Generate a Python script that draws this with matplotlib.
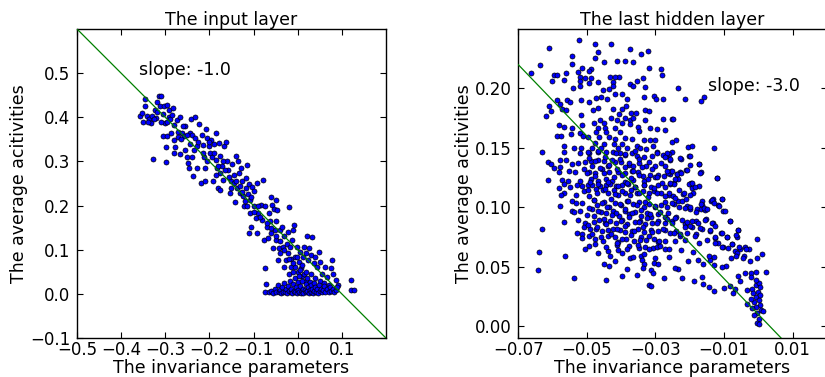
import numpy as np
import matplotlib
matplotlib.use("Agg")
import matplotlib.pyplot as plt
from matplotlib.ticker import FormatStrFormatter

# ---- data (x = invariance parameter, y = average activity) ----
input_points = [
    (-0.358, 0.402), (-0.353, 0.410), (-0.347, 0.442), (-0.351, 0.389), (-0.347, 0.425),
    (-0.342, 0.402), (-0.336, 0.395), (-0.333, 0.387), (-0.330, 0.402), (-0.327, 0.305),
    (-0.324, 0.417), (-0.320, 0.398), (-0.319, 0.434), (-0.315, 0.448), (-0.309, 0.449),
    (-0.311, 0.425), (-0.304, 0.408), (-0.302, 0.425), (-0.300, 0.387), (-0.298, 0.298),
    (-0.296, 0.428), (-0.292, 0.401), (-0.305, 0.357), (-0.296, 0.358), (-0.298, 0.332),
    (-0.292, 0.416), (-0.289, 0.397), (-0.287, 0.364), (-0.283, 0.420), (-0.280, 0.383),
    (-0.280, 0.349), (-0.277, 0.333), (-0.281, 0.320), (-0.273, 0.394), (-0.270, 0.367),
    (-0.266, 0.401), (-0.267, 0.317), (-0.262, 0.364), (-0.258, 0.358), (-0.255, 0.381),
    (-0.255, 0.326), (-0.251, 0.311), (-0.249, 0.296), (-0.247, 0.285), (-0.244, 0.364),
    (-0.241, 0.396), (-0.239, 0.361), (-0.239, 0.311), (-0.236, 0.267), (-0.232, 0.400),
    (-0.232, 0.353), (-0.229, 0.334), (-0.228, 0.285), (-0.224, 0.385), (-0.220, 0.252),
    (-0.217, 0.361), (-0.214, 0.338), (-0.213, 0.310), (-0.210, 0.255), (-0.209, 0.285),
    (-0.207, 0.373), (-0.205, 0.353), (-0.202, 0.334), (-0.199, 0.319), (-0.196, 0.349),
    (-0.194, 0.311), (-0.192, 0.255), (-0.190, 0.339), (-0.186, 0.365), (-0.184, 0.304),
    (-0.183, 0.285), (-0.181, 0.239), (-0.179, 0.342), (-0.177, 0.236), (-0.175, 0.312),
    (-0.175, 0.273), (-0.172, 0.290), (-0.169, 0.258), (-0.167, 0.334), (-0.162, 0.345),
    (-0.160, 0.300), (-0.157, 0.280), (-0.154, 0.228), (-0.151, 0.255), (-0.148, 0.294),
    (-0.145, 0.251), (-0.141, 0.209), (-0.139, 0.313), (-0.137, 0.239), (-0.136, 0.300),
    (-0.133, 0.273), (-0.131, 0.228), (-0.128, 0.285), (-0.126, 0.255), (-0.123, 0.222),
    (-0.122, 0.198), (-0.118, 0.239), (-0.116, 0.262), (-0.114, 0.292), (-0.113, 0.227),
    (-0.111, 0.248), (-0.108, 0.183), (-0.107, 0.213), (-0.111, 0.137), (-0.105, 0.152),
    (-0.103, 0.243), (-0.099, 0.232), (-0.098, 0.198), (-0.095, 0.171), (-0.093, 0.251),
    (-0.092, 0.137), (-0.090, 0.183), (-0.084, 0.202), (-0.080, 0.167), (-0.078, 0.258),
    (-0.077, 0.122), (-0.075, 0.198), (-0.073, 0.058), (-0.071, 0.023), (-0.069, 0.152),
    (-0.067, 0.126), (-0.065, 0.183), (-0.063, 0.164), (-0.061, 0.219), (-0.060, 0.137),
    (-0.058, 0.202), (-0.055, 0.103), (-0.054, 0.192), (-0.052, 0.145), (-0.050, 0.212),
    (-0.049, 0.122), (-0.048, 0.164), (-0.046, 0.189), (-0.045, 0.077), (-0.042, 0.105),
    (-0.040, 0.145), (-0.039, 0.092), (-0.035, 0.152), (-0.033, 0.107), (-0.031, 0.130),
    (-0.030, 0.061), (-0.027, 0.077), (-0.025, 0.114), (-0.023, 0.141), (-0.022, 0.092),
    (-0.019, 0.196), (-0.017, 0.107), (-0.016, 0.080), (-0.014, 0.061), (-0.012, 0.122),
    (-0.010, 0.145), (-0.008, 0.156), (-0.007, 0.084), (-0.005, 0.061), (-0.002, 0.107),
    (-0.001, 0.084), (0.003, 0.073), (0.005, 0.095), (0.007, 0.058), (0.011, 0.084),
    (0.014, 0.107), (0.018, 0.092), (0.022, 0.131), (0.023, 0.077), (0.026, 0.103),
    (0.030, 0.088), (0.033, 0.128), (0.036, 0.069), (0.039, 0.084), (0.043, 0.061),
    (0.048, 0.095), (0.051, 0.073), (0.056, 0.046), (0.061, 0.061), (0.067, 0.039),
    (0.075, 0.058), (0.077, 0.077), (0.081, 0.045), (0.086, 0.031), (0.092, 0.020),
    (0.120, 0.031), (0.120, 0.008), (0.127, 0.008),
    (-0.340, 0.390), (-0.325, 0.395), (-0.318, 0.412), (-0.310, 0.390), (-0.295, 0.390),
    (-0.285, 0.405), (-0.270, 0.355), (-0.265, 0.350), (-0.260, 0.380), (-0.250, 0.360),
    (-0.245, 0.340), (-0.235, 0.325), (-0.225, 0.345), (-0.215, 0.320), (-0.205, 0.300),
    (-0.200, 0.345), (-0.190, 0.320), (-0.185, 0.270), (-0.180, 0.290), (-0.170, 0.300),
    (-0.165, 0.280), (-0.155, 0.265), (-0.150, 0.240), (-0.145, 0.270), (-0.140, 0.255),
    (-0.130, 0.245), (-0.125, 0.230), (-0.120, 0.210), (-0.115, 0.200), (-0.105, 0.220),
    (-0.100, 0.185), (-0.090, 0.200), (-0.085, 0.175), (-0.070, 0.160), (-0.060, 0.150),
    (-0.050, 0.130), (-0.040, 0.120), (-0.030, 0.100), (-0.020, 0.080), (-0.010, 0.070),
    (0.000, 0.050), (0.010, 0.040), (0.020, 0.030), (0.030, 0.045), (0.040, 0.035),
    (0.050, 0.030), (0.060, 0.025), (0.070, 0.020),
    # the pile-up just above zero
    (-0.075, 0.005), (-0.065, 0.004), (-0.060, 0.006), (-0.055, 0.003), (-0.052, 0.012),
    (-0.048, 0.005), (-0.045, 0.020), (-0.043, 0.004), (-0.040, 0.008), (-0.038, 0.003),
    (-0.035, 0.015), (-0.033, 0.005), (-0.030, 0.025), (-0.028, 0.004), (-0.026, 0.010),
    (-0.024, 0.003), (-0.022, 0.018), (-0.020, 0.006), (-0.018, 0.030), (-0.016, 0.004),
    (-0.014, 0.012), (-0.012, 0.003), (-0.010, 0.022), (-0.008, 0.007), (-0.006, 0.035),
    (-0.005, 0.004), (-0.003, 0.015), (-0.001, 0.003), (0.000, 0.028), (0.001, 0.008),
    (0.003, 0.040), (0.004, 0.004), (0.006, 0.018), (0.007, 0.003), (0.009, 0.030),
    (0.010, 0.006), (0.012, 0.012), (0.013, 0.003), (0.015, 0.045), (0.016, 0.008),
    (0.018, 0.022), (0.019, 0.004), (0.021, 0.035), (0.022, 0.006), (0.024, 0.015),
    (0.025, 0.003), (0.027, 0.028), (0.028, 0.008), (0.030, 0.020), (0.031, 0.004),
    (0.033, 0.012), (0.035, 0.003), (0.037, 0.025), (0.038, 0.007), (0.040, 0.015),
    (0.042, 0.004), (0.044, 0.010), (0.046, 0.003), (0.048, 0.020), (0.050, 0.006),
    (0.053, 0.012), (0.055, 0.004), (0.058, 0.008), (0.060, 0.018), (0.063, 0.005),
    (0.066, 0.010), (0.070, 0.004), (0.073, 0.015), (0.076, 0.006), (0.080, 0.010),
    (0.083, 0.004), (0.087, 0.008), (0.090, 0.015), (-0.020, 0.045), (0.005, 0.055),
    (-0.010, 0.050), (0.020, 0.050), (0.010, 0.065),
]

hidden_points = [
    (-0.0522, 0.241), (-0.0477, 0.2377), (-0.0430, 0.2377), (-0.0609, 0.2340), (-0.0467, 0.2306),
    (-0.0375, 0.2329), (-0.0321, 0.2315), (-0.0343, 0.2293), (-0.0544, 0.2276), (-0.0476, 0.2253),
    (-0.0411, 0.2233), (-0.0390, 0.2230), (-0.0365, 0.2222), (-0.0451, 0.2220), (-0.0638, 0.2200),
    (-0.0542, 0.2203), (-0.0515, 0.2172), (-0.0489, 0.2163), (-0.0494, 0.2144), (-0.0527, 0.2141),
    (-0.0662, 0.2127), (-0.0595, 0.2116), (-0.0586, 0.2113), (-0.0561, 0.2130), (-0.0521, 0.2099),
    (-0.0318, 0.2169), (-0.0283, 0.2160), (-0.0281, 0.2116), (-0.0406, 0.2093), (-0.0431, 0.2093),
    (-0.0419, 0.2093), (-0.0488, 0.2088), (-0.0336, 0.2090), (-0.0601, 0.2065), (-0.0566, 0.2073),
    (-0.0504, 0.2088), (-0.0521, 0.2062), (-0.0493, 0.2048), (-0.0468, 0.2057), (-0.0423, 0.2057),
    (-0.0354, 0.2060), (-0.0425, 0.2020), (-0.0374, 0.2034), (-0.0365, 0.2017), (-0.0519, 0.2017),
    (-0.0539, 0.2000), (-0.0435, 0.1994), (-0.0453, 0.1984), (-0.0329, 0.2009), (-0.0419, 0.1956),
    (-0.0396, 0.1950), (-0.0459, 0.1928), (-0.0333, 0.1928), (-0.0305, 0.1939), (-0.0298, 0.1914),
    (-0.0279, 0.1908), (-0.0473, 0.1922), (-0.0442, 0.1911), (-0.0382, 0.1914), (-0.0588, 0.1905),
    (-0.0559, 0.1902), (-0.0550, 0.1886), (-0.0518, 0.1902), (-0.0494, 0.1883), (-0.0579, 0.1865),
    (-0.0571, 0.1829), (-0.0609, 0.1855), (-0.0561, 0.1821), (-0.0468, 0.1833), (-0.0482, 0.1821),
    (-0.0425, 0.1827), (-0.0396, 0.1827), (-0.0386, 0.1849), (-0.0330, 0.1821), (-0.0320, 0.1807),
    (-0.0371, 0.1793), (-0.0356, 0.1793), (-0.0406, 0.1782), (-0.0604, 0.1807), (-0.0618, 0.1765),
    (-0.0518, 0.1779), (-0.0463, 0.1737), (-0.0430, 0.1748), (-0.0411, 0.1731), (-0.0388, 0.1751),
    (-0.0375, 0.1737), (-0.0364, 0.1754), (-0.0330, 0.1734), (-0.0279, 0.1742), (-0.0251, 0.1742),
    (-0.0480, 0.1709), (-0.0451, 0.1709), (-0.0398, 0.1706), (-0.0373, 0.1698), (-0.0513, 0.1692),
    (-0.0581, 0.1689), (-0.0568, 0.1678), (-0.0543, 0.1669), (-0.0468, 0.1664), (-0.0447, 0.1664),
    (-0.0419, 0.1664), (-0.0352, 0.1675), (-0.0315, 0.1667), (-0.0296, 0.1658), (-0.0271, 0.1647),
    (-0.0473, 0.1630), (-0.0445, 0.1630), (-0.0402, 0.1633), (-0.0347, 0.1639), (-0.0519, 0.1622),
    (-0.0510, 0.1602), (-0.0587, 0.1597), (-0.0575, 0.1602), (-0.0545, 0.1613), (-0.0497, 0.1588),
    (-0.0464, 0.1591), (-0.0434, 0.1588), (-0.0417, 0.1574), (-0.0390, 0.1580), (-0.0367, 0.1574),
    (-0.0334, 0.1566), (-0.0316, 0.1568), (-0.0302, 0.1568), (-0.0476, 0.1537), (-0.0449, 0.1535),
    (-0.0421, 0.1532), (-0.0398, 0.1532), (-0.0355, 0.1518), (-0.0566, 0.1518), (-0.0536, 0.1500),
    (-0.0630, 0.1467), (-0.0518, 0.1498), (-0.0484, 0.1500), (-0.0458, 0.1500), (-0.0408, 0.1498),
    (-0.0382, 0.1498), (-0.0344, 0.1500), (-0.0328, 0.1490), (-0.0308, 0.1512), (-0.0296, 0.1467),
    (-0.0279, 0.1439), (-0.0263, 0.1434), (-0.0252, 0.1462), (-0.0566, 0.1462), (-0.0520, 0.1456),
    (-0.0495, 0.1456), (-0.0466, 0.1467), (-0.0445, 0.1462), (-0.0425, 0.1462), (-0.0403, 0.1456),
    (-0.0388, 0.1442), (-0.0367, 0.1456), (-0.0353, 0.1428), (-0.0332, 0.1422), (-0.0310, 0.1434),
    (-0.0560, 0.1397), (-0.0578, 0.1397), (-0.0614, 0.1378), (-0.0604, 0.1364), (-0.0597, 0.1327),
    (-0.0578, 0.1335), (-0.0542, 0.1366), (-0.0525, 0.1372), (-0.0505, 0.1383), (-0.0488, 0.1389),
    (-0.0466, 0.1397), (-0.0449, 0.1386), (-0.0439, 0.1349), (-0.0417, 0.1378), (-0.0400, 0.1383),
    (-0.0378, 0.1355), (-0.0364, 0.1344), (-0.0347, 0.1372), (-0.0326, 0.1349), (-0.0300, 0.1344),
    (-0.0271, 0.1349), (-0.0581, 0.1299), (-0.0552, 0.1307), (-0.0534, 0.1293), (-0.0507, 0.1321),
    (-0.0495, 0.1293), (-0.0476, 0.1288), (-0.0456, 0.1321), (-0.0435, 0.1293), (-0.0408, 0.1299),
    (-0.0388, 0.1288), (-0.0369, 0.1305), (-0.0351, 0.1293), (-0.0337, 0.1265), (-0.0316, 0.1271),
    (-0.0302, 0.1251), (-0.0291, 0.1271), (-0.0275, 0.1265), (-0.0258, 0.1279), (-0.0614, 0.1232),
    (-0.0571, 0.1232), (-0.0554, 0.1223), (-0.0519, 0.1223), (-0.0488, 0.1237), (-0.0468, 0.1223),
    (-0.0443, 0.1237), (-0.0427, 0.1223), (-0.0388, 0.1215), (-0.0364, 0.1232), (-0.0332, 0.1223),
    # upper right
    (-0.0235, 0.2000), (-0.0215, 0.1908), (-0.0167, 0.1891), (-0.0157, 0.1930), (-0.0248, 0.1742),
    (-0.0253, 0.1552), (-0.0241, 0.1568), (-0.0204, 0.1510), (-0.0194, 0.1518), (-0.0129, 0.1501),
    (-0.0260, 0.1448), (-0.0257, 0.1397), (-0.0225, 0.1406), (-0.0201, 0.1431), (-0.0199, 0.1355),
    (-0.0172, 0.1364), (-0.0210, 0.1316), (-0.0168, 0.1299), (-0.0254, 0.1302), (-0.0238, 0.1279),
    (-0.0227, 0.1293), (-0.0121, 0.1249), (-0.0235, 0.1237), (-0.0196, 0.1204), (-0.0245, 0.1204),
    # lower left
    (-0.0581, 0.1159), (-0.0567, 0.1195), (-0.0548, 0.1173), (-0.0528, 0.1190), (-0.0513, 0.1178),
    (-0.0497, 0.1190), (-0.0486, 0.1190), (-0.0462, 0.1178), (-0.0445, 0.1190), (-0.0431, 0.1195),
    (-0.0415, 0.1178), (-0.0398, 0.1184), (-0.0380, 0.1195), (-0.0359, 0.1173), (-0.0334, 0.1184),
    (-0.0312, 0.1167), (-0.0291, 0.1190), (-0.0273, 0.1173), (-0.0257, 0.1195), (-0.0568, 0.1122),
    (-0.0575, 0.1100), (-0.0532, 0.1100), (-0.0507, 0.1139), (-0.0495, 0.1094), (-0.0472, 0.1156),
    (-0.0454, 0.1145), (-0.0439, 0.1122), (-0.0421, 0.1145), (-0.0408, 0.1100), (-0.0390, 0.1122),
    (-0.0370, 0.1145), (-0.0353, 0.1122), (-0.0337, 0.1139), (-0.0320, 0.1117), (-0.0304, 0.1139),
    (-0.0283, 0.1122), (-0.0261, 0.1103), (-0.0544, 0.1055), (-0.0532, 0.1033), (-0.0579, 0.1010),
    (-0.0515, 0.1033), (-0.0478, 0.1061), (-0.0470, 0.1016), (-0.0449, 0.1044), (-0.0435, 0.1005),
    (-0.0417, 0.1039), (-0.0400, 0.1016), (-0.0384, 0.1055), (-0.0365, 0.1027), (-0.0347, 0.1044),
    (-0.0334, 0.1005), (-0.0318, 0.1027), (-0.0300, 0.0999), (-0.0283, 0.1021), (-0.0267, 0.1005),
    (-0.0544, 0.0971), (-0.0519, 0.0971), (-0.0486, 0.0982), (-0.0536, 0.0960), (-0.0500, 0.0937),
    (-0.0458, 0.0960), (-0.0445, 0.0948), (-0.0423, 0.0965), (-0.0406, 0.0926), (-0.0390, 0.0971),
    (-0.0378, 0.0943), (-0.0359, 0.0960), (-0.0343, 0.0926), (-0.0324, 0.0954), (-0.0312, 0.0920),
    (-0.0291, 0.0943), (-0.0271, 0.0920), (-0.0566, 0.0875), (-0.0527, 0.0892), (-0.0505, 0.0870),
    (-0.0478, 0.0875), (-0.0464, 0.0892), (-0.0447, 0.0864), (-0.0431, 0.0881), (-0.0415, 0.0864),
    (-0.0398, 0.0892), (-0.0382, 0.0861), (-0.0360, 0.0875), (-0.0345, 0.0881), (-0.0330, 0.0861),
    (-0.0310, 0.0870), (-0.0291, 0.0881), (-0.0271, 0.0864), (-0.0252, 0.0881), (-0.0630, 0.0814),
    (-0.0509, 0.0831), (-0.0491, 0.0814), (-0.0474, 0.0819), (-0.0456, 0.0802), (-0.0439, 0.0808),
    (-0.0423, 0.0819), (-0.0404, 0.0808), (-0.0388, 0.0791), (-0.0369, 0.0802), (-0.0351, 0.0814),
    (-0.0334, 0.0791), (-0.0314, 0.0808), (-0.0293, 0.0797), (-0.0271, 0.0808), (-0.0530, 0.0780),
    (-0.0515, 0.0774), (-0.0493, 0.0758), (-0.0476, 0.0730), (-0.0454, 0.0713), (-0.0437, 0.0758),
    (-0.0417, 0.0747), (-0.0408, 0.0707), (-0.0386, 0.0730), (-0.0363, 0.0718), (-0.0343, 0.0752),
    (-0.0326, 0.0724), (-0.0304, 0.0730), (-0.0291, 0.0707), (-0.0271, 0.0718), (-0.0513, 0.0741),
    (-0.0412, 0.0679), (-0.0408, 0.0640), (-0.0437, 0.0634), (-0.0493, 0.0673), (-0.0505, 0.0645),
    (-0.0564, 0.0589), (-0.0640, 0.0623), (-0.0378, 0.0673), (-0.0349, 0.0657), (-0.0330, 0.0668),
    (-0.0306, 0.0657), (-0.0294, 0.0668), (-0.0271, 0.0651), (-0.0259, 0.0578), (-0.0341, 0.0589),
    (-0.0374, 0.0572), (-0.0419, 0.0550), (-0.0339, 0.0556), (-0.0449, 0.0522), (-0.0435, 0.0505),
    (-0.0332, 0.0522), (-0.0304, 0.0527), (-0.0291, 0.0522), (-0.0642, 0.0471), (-0.0382, 0.0483),
    (-0.0337, 0.0488), (-0.0314, 0.0471), (-0.0308, 0.0449), (-0.0396, 0.0421), (-0.0353, 0.0432),
    (-0.0275, 0.0404), (-0.0536, 0.0404), (-0.0445, 0.0387), (-0.0320, 0.0342), (-0.0312, 0.0337),
    # lower right
    (-0.0247, 0.1195), (-0.0200, 0.1195), (-0.0192, 0.1162), (-0.0173, 0.1178), (-0.0190, 0.1122),
    (-0.0219, 0.1111), (-0.0249, 0.1094), (-0.0233, 0.1055), (-0.0245, 0.1027), (-0.0222, 0.1049),
    (-0.0208, 0.1010), (-0.0200, 0.0982), (-0.0178, 0.0988), (-0.0163, 0.1016), (-0.0167, 0.0988),
    (-0.0155, 0.0976), (-0.0138, 0.1055), (-0.0132, 0.1066), (-0.0117, 0.1016), (-0.0107, 0.1066),
    (-0.0103, 0.0971), (-0.0081, 0.0887), (-0.0151, 0.0898), (-0.0133, 0.0864), (-0.0181, 0.0887),
    (-0.0194, 0.0836), (-0.0215, 0.0859), (-0.0239, 0.0915), (-0.0253, 0.0870), (-0.0241, 0.0802),
    (-0.0257, 0.0780), (-0.0227, 0.0758), (-0.0208, 0.0786), (-0.0181, 0.0774), (-0.0165, 0.0819),
    (-0.0141, 0.0797), (-0.0149, 0.0724), (-0.0126, 0.0738), (-0.0108, 0.0780), (-0.0091, 0.0752),
    (-0.0117, 0.0696), (-0.0103, 0.0668), (-0.0087, 0.0654), (-0.0077, 0.0690), (-0.0062, 0.0746),
    (-0.0058, 0.0808), (-0.0069, 0.0634), (-0.0052, 0.0645), (-0.0038, 0.0668), (-0.0027, 0.0645),
    (-0.0005, 0.0730), (0.0011, 0.0606), (-0.0005, 0.0572), (-0.0023, 0.0550), (-0.0041, 0.0589),
    (-0.0062, 0.0617), (-0.0080, 0.0572), (-0.0095, 0.0505), (-0.0107, 0.0494), (-0.0128, 0.0511),
    (-0.0142, 0.0556), (-0.0161, 0.0522), (-0.0175, 0.0556), (-0.0204, 0.0550), (-0.0235, 0.0477),
    (-0.0243, 0.0488), (-0.0223, 0.0404), (-0.0186, 0.0376), (-0.0165, 0.0415), (-0.0161, 0.0354),
    (-0.0143, 0.0331), (-0.0130, 0.0297), (-0.0101, 0.0325), (-0.0081, 0.0337), (-0.0067, 0.0314),
    (-0.0075, 0.0275), (-0.0058, 0.0421), (-0.0054, 0.0382), (-0.0038, 0.0443), (-0.0020, 0.0449),
    (-0.0007, 0.0455), (0.0022, 0.0455), (-0.0022, 0.0415), (-0.0033, 0.0303), (-0.0019, 0.0314),
    (-0.0007, 0.0342), (0.0001, 0.0359), (-0.0015, 0.0275), (-0.0007, 0.0247), (0.0001, 0.0224),
    (-0.0011, 0.0202), (0.0005, 0.0174), (0.0009, 0.0135), (0.0013, 0.0129), (-0.0007, 0.0163),
    (-0.0003, 0.0107), (-0.0013, 0.0090), (0.0001, 0.0056), (-0.0005, 0.0028), (0.0003, 0.0022),
    (-0.0033, 0.0185), (-0.0019, 0.0152), (-0.0022, 0.0230), (-0.0001, 0.0286), (0.0006, 0.0258),
    (0.0005, 0.0326), (-0.0007, 0.0387),
    # dense middle, right of the line
    (-0.0266, 0.1453), (-0.0256, 0.1403), (-0.0227, 0.1411), (-0.0200, 0.1431), (-0.0172, 0.1364),
    (-0.0263, 0.1285), (-0.0252, 0.1308), (-0.0237, 0.1280), (-0.0224, 0.1291), (-0.0208, 0.1313),
    (-0.0169, 0.1291), (-0.0120, 0.1246), (-0.0242, 0.1235), (-0.0256, 0.1201), (-0.0201, 0.1195),
    (-0.0193, 0.1201), (-0.0185, 0.1167), (-0.0232, 0.1145), (-0.0217, 0.1117), (-0.0198, 0.1103),
    (-0.0259, 0.1122), (-0.0244, 0.1075), (-0.0210, 0.1066), (-0.0164, 0.1055), (-0.0136, 0.1061),
    (-0.0129, 0.1033), (-0.0107, 0.1066), (-0.0252, 0.1033), (-0.0232, 0.0999), (-0.0214, 0.0990),
    (-0.0200, 0.1005), (-0.0166, 0.1027), (-0.0159, 0.0990), (-0.0149, 0.0982), (-0.0115, 0.1010),
    (-0.0098, 0.0971), (-0.0181, 0.0962), (-0.0263, 0.0948), (-0.0242, 0.0906), (-0.0222, 0.0892),
    (-0.0208, 0.0878), (-0.0193, 0.0887), (-0.0175, 0.0864), (-0.0154, 0.0892), (-0.0135, 0.0870),
    (-0.0081, 0.0887), (-0.0214, 0.0831), (-0.0198, 0.0842), (-0.0169, 0.0822), (-0.0142, 0.0808),
    (-0.0125, 0.0842), (-0.0059, 0.0808), (-0.0247, 0.0786), (-0.0227, 0.0774), (-0.0185, 0.0758),
    (-0.0125, 0.0752), (-0.0105, 0.0780), (-0.0091, 0.0746), (-0.0064, 0.0766), (-0.0242, 0.0718),
    (-0.0213, 0.0724), (-0.0174, 0.0701), (-0.0125, 0.0696), (-0.0105, 0.0668), (-0.0076, 0.0690),
    (-0.0055, 0.0668), (-0.0037, 0.0645), (-0.0224, 0.0640), (-0.0191, 0.0626), (-0.0260, 0.0645),
    (-0.0144, 0.0589), (-0.0130, 0.0578), (-0.0066, 0.0589), (-0.0045, 0.0570),
    # dense middle, around the line
    (-0.0497, 0.1467), (-0.0466, 0.1473), (-0.0415, 0.1459), (-0.0390, 0.1448), (-0.0359, 0.1470),
    (-0.0295, 0.1459), (-0.0271, 0.1420), (-0.0495, 0.1411), (-0.0476, 0.1392), (-0.0448, 0.1420),
    (-0.0427, 0.1397), (-0.0404, 0.1409), (-0.0378, 0.1375), (-0.0349, 0.1403), (-0.0320, 0.1383),
    (-0.0283, 0.1369), (-0.0486, 0.1347), (-0.0461, 0.1327), (-0.0435, 0.1355), (-0.0412, 0.1319),
    (-0.0388, 0.1336), (-0.0364, 0.1308), (-0.0339, 0.1341), (-0.0310, 0.1319), (-0.0266, 0.1308),
    (-0.0500, 0.1285), (-0.0476, 0.1263), (-0.0451, 0.1291), (-0.0422, 0.1251), (-0.0398, 0.1274),
    (-0.0370, 0.1246), (-0.0347, 0.1268), (-0.0322, 0.1235), (-0.0295, 0.1257), (-0.0490, 0.1215),
    (-0.0466, 0.1195), (-0.0437, 0.1215), (-0.0410, 0.1178), (-0.0383, 0.1206), (-0.0359, 0.1167),
    (-0.0332, 0.1190), (-0.0305, 0.1159), (-0.0281, 0.1201), (-0.0497, 0.1145), (-0.0471, 0.1122),
    (-0.0447, 0.1150), (-0.0419, 0.1111), (-0.0396, 0.1134), (-0.0373, 0.1100), (-0.0349, 0.1122),
    (-0.0322, 0.1089), (-0.0295, 0.1117), (-0.0271, 0.1094), (-0.0480, 0.1061), (-0.0456, 0.1038),
    (-0.0429, 0.1066), (-0.0403, 0.1027), (-0.0380, 0.1055), (-0.0354, 0.1019), (-0.0330, 0.1047),
    (-0.0300, 0.1010), (-0.0273, 0.1047), (-0.0493, 0.0990), (-0.0466, 0.0971), (-0.0442, 0.1005),
    (-0.0415, 0.0954), (-0.0390, 0.0982), (-0.0367, 0.0948), (-0.0341, 0.0976), (-0.0315, 0.0943),
    (-0.0286, 0.0962), (-0.0478, 0.0926), (-0.0451, 0.0898), (-0.0427, 0.0932), (-0.0400, 0.0887),
    (-0.0376, 0.0915), (-0.0349, 0.0878), (-0.0325, 0.0906), (-0.0295, 0.0864), (-0.0266, 0.0898),
    (-0.0497, 0.0850), (-0.0471, 0.0831), (-0.0445, 0.0859), (-0.0412, 0.0814), (-0.0388, 0.0842),
    (-0.0361, 0.0802), (-0.0337, 0.0831), (-0.0310, 0.0794), (-0.0279, 0.0819), (-0.0486, 0.0774),
    (-0.0458, 0.0746), (-0.0429, 0.0774), (-0.0398, 0.0730), (-0.0370, 0.0763), (-0.0344, 0.0724),
    (-0.0318, 0.0758), (-0.0289, 0.0718), (-0.0476, 0.0690), (-0.0445, 0.0662), (-0.0412, 0.0696),
    (-0.0383, 0.0651), (-0.0351, 0.0679), (-0.0320, 0.0645), (-0.0286, 0.0673), (-0.0466, 0.0612),
    (-0.0432, 0.0589), (-0.0398, 0.0617), (-0.0364, 0.0578), (-0.0332, 0.0606), (-0.0300, 0.0570),
]

input_x, input_y = np.array(input_points).T
hidden_x, hidden_y = np.array(hidden_points).T

# fitted lines: y = slope * x + intercept
input_slope, input_intercept = -1.0, 0.1
hidden_slope, hidden_intercept = -3.0, 0.01

plt.rcParams['font.family'] = 'DejaVu Sans'
plt.rcParams['xtick.direction'] = 'in'
plt.rcParams['ytick.direction'] = 'in'
plt.rcParams['xtick.top'] = True
plt.rcParams['ytick.right'] = True
plt.rcParams['xtick.major.size'] = 4
plt.rcParams['ytick.major.size'] = 4
plt.rcParams['xtick.major.pad'] = 2
plt.rcParams['ytick.major.pad'] = 5
plt.rcParams['xtick.labelsize'] = 12
plt.rcParams['ytick.labelsize'] = 12

fig = plt.figure(figsize=(8.25, 3.77), dpi=100)
fig.patch.set_facecolor('white')

# left panel
ax1 = fig.add_axes([0.0933, 0.1034, 0.3745, 0.8197])
ax1.scatter(input_x, input_y, s=13, c='blue', edgecolors='black', linewidths=0.5, zorder=2)
xl = np.array([-0.5, 0.2])
ax1.plot(xl, input_slope * xl + input_intercept, color='green', lw=0.9, zorder=3)
ax1.set_xlim(-0.5, 0.2)
ax1.set_ylim(-0.1, 0.6)
ax1.set_xticks([-0.5, -0.4, -0.3, -0.2, -0.1, 0.0, 0.1])
ax1.set_yticks([-0.1, 0.0, 0.1, 0.2, 0.3, 0.4, 0.5])
ax1.text(-0.36, 0.495, 'slope: %.1f' % input_slope, fontsize=12.5)
ax1.set_title('The input layer', fontsize=12.5, pad=3)
ax1.set_xlabel('The invariance parameters', fontsize=12.5)
ax1.set_ylabel('The average acitivities', fontsize=12.5, labelpad=1)

# right panel
ax2 = fig.add_axes([0.6282, 0.1034, 0.374, 0.8197])
ax2.scatter(hidden_x, hidden_y, s=13, c='blue', edgecolors='black', linewidths=0.5, zorder=2)
xr = np.array([-0.07, 0.02])
ax2.plot(xr, hidden_slope * xr + hidden_intercept, color='green', lw=0.9, zorder=3)
ax2.set_xlim(-0.07, 0.02)
ax2.set_ylim(-0.01, 0.25)
ax2.set_xticks([-0.07, -0.05, -0.03, -0.01, 0.01])
ax2.set_yticks([0.0, 0.05, 0.10, 0.15, 0.20])
ax2.yaxis.set_major_formatter(FormatStrFormatter('%.2f'))
ax2.text(-0.0146, 0.198, 'slope: %.1f' % hidden_slope, fontsize=12.5)
ax2.set_title('The last hidden layer', fontsize=12.5, pad=3)
ax2.set_xlabel('The invariance parameters', fontsize=12.5)
ax2.set_ylabel('The average acitivities', fontsize=12.5, labelpad=1)

for ax in (ax1, ax2):
    ax.xaxis.set_label_coords(0.5, -0.068)
    for sp in ax.spines.values():
        sp.set_linewidth(1.0)

plt.savefig('out.png', dpi=100, facecolor='white')
